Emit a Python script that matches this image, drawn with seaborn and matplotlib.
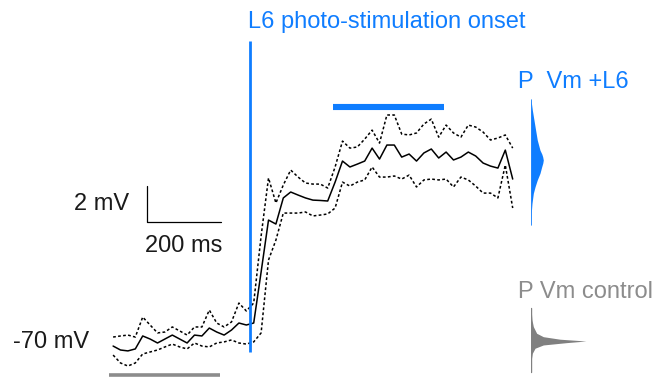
import numpy as np
import pandas as pd
import matplotlib
matplotlib.use("Agg")
import matplotlib.pyplot as plt
import seaborn as sns

# ---------------- data ----------------
time_ms = np.arange(-370, 720, 20)  # sample times relative to L6 photo-stimulation onset (ms)

vm_mean = [-70.17, -70.39, -70.44, -70.33, -69.61, -69.78, -70.00, -69.78, -69.56, -69.78,
           -70.00, -69.56, -69.61, -69.17, -69.39, -69.56, -69.28, -68.89, -69.00, -68.89,
           -66.06, -63.17, -63.39, -61.94, -61.61, -61.78, -61.94, -62.06, -62.08, -62.11,
           -61.06, -59.89, -60.22, -60.06, -59.89, -59.17, -59.78, -59.00, -59.00, -59.67,
           -59.50, -59.89, -59.44, -59.22, -59.72, -59.39, -59.83, -59.67, -59.39, -59.61,
           -60.00, -60.17, -60.28, -59.28, -60.89]

vm_upper = [-69.67, -69.61, -69.56, -69.67, -68.56, -69.00, -69.44, -69.39, -69.11, -69.33,
            -69.56, -69.11, -69.11, -68.17, -68.89, -69.11, -68.83, -67.78, -68.22, -67.78,
            -64.06, -60.83, -62.22, -61.22, -60.39, -60.78, -61.11, -61.17, -61.17, -61.39,
            -60.22, -58.78, -59.17, -59.11, -58.67, -58.17, -58.89, -57.33, -57.33, -58.39,
            -58.44, -58.33, -57.83, -57.56, -58.56, -57.89, -58.33, -58.56, -57.89, -58.00,
            -58.28, -58.72, -58.61, -58.44, -59.17]

vm_lower = [-70.67, -71.11, -71.28, -71.11, -70.61, -70.50, -70.39, -70.22, -70.06, -70.22,
            -70.33, -70.00, -70.17, -70.22, -70.00, -69.94, -69.83, -70.00, -70.06, -69.94,
            -69.44, -65.39, -64.28, -62.78, -62.78, -62.78, -62.72, -62.94, -62.89, -62.83,
            -62.50, -61.06, -61.28, -61.06, -60.94, -60.22, -60.78, -60.78, -60.72, -60.89,
            -60.67, -61.33, -60.94, -60.89, -60.94, -60.89, -61.33, -60.78, -60.94, -61.28,
            -61.67, -61.67, -61.94, -60.11, -62.50]

# Vm distributions (relative probability) with and without L6 stimulation
l6_hist_vm = [-56.5, -57.06, -57.98, -58.72, -59.28, -59.50, -59.65, -59.83, -60.00, -60.21,
              -60.57, -60.94, -61.32, -61.68, -62.24, -62.78, -63.45]
l6_hist_p = [0.0, 0.11, 0.33, 0.51, 0.73, 0.88, 0.95, 1.00, 0.96, 0.87,
             0.73, 0.51, 0.33, 0.19, 0.08, 0.02, 0.0]

ctrl_hist_vm = [-68.06, -68.72, -69.09, -69.46, -69.65, -69.79, -69.89, -69.98, -70.11,
                -70.29, -70.57, -70.94, -71.61]
ctrl_hist_p = [0.0, 0.08, 0.19, 0.46, 1.00, 2.36, 4.47, 2.90, 1.00, 0.33, 0.11, 0.02, 0.0]

onset_ms = 0
onset_line_vm = (-70.5, -53.2)
l6_window_ms = (225, 525)
ctrl_window_ms = (-380, -80)
scale_bar_mv = 2
scale_bar_ms = 200
scale_origin = (-278, -63.3)
baseline_mv = -70

BLUE = "#0f7dff"
GRAY = "#8c8c8c"
FS = 17

# ---------------- figure ----------------
sns.set_theme(style="white")
plt.rcParams["font.family"] = ["Liberation Sans", "DejaVu Sans"]

fig = plt.figure(figsize=(6.55, 3.77), dpi=100)
ax = fig.add_axes([0, 0, 1, 1])
ax.set_xlim(-675.7, 1094.6)
ax.set_ylim(-71.89, -50.94)
ax.axis("off")

df = pd.DataFrame({"t": time_ms, "mean": vm_mean, "upper": vm_upper, "lower": vm_lower})
sns.lineplot(data=df, x="t", y="upper", color="black", lw=1.1,
             linestyle=(0, (1.8, 1.5)), ax=ax, sort=False)
sns.lineplot(data=df, x="t", y="lower", color="black", lw=1.1,
             linestyle=(0, (1.8, 1.5)), ax=ax, sort=False)
sns.lineplot(data=df, x="t", y="mean", color="black", lw=1.1, ax=ax, sort=False)

# onset line
ax.plot([onset_ms, onset_ms], onset_line_vm, color=BLUE, lw=2.0, solid_capstyle="butt")
ax.text(onset_ms - 5, -52.17, "L6 photo-stimulation onset", color=BLUE, fontsize=FS,
        ha="left", va="center")

# analysis windows
ax.plot(l6_window_ms, [-56.86, -56.86], color=BLUE, lw=4.4, solid_capstyle="butt")
ax.plot(ctrl_window_ms, [-71.78, -71.78], color=GRAY, lw=2.6, solid_capstyle="butt")

# scale bar
x0, y0 = scale_origin
ax.plot([x0, x0, x0 + scale_bar_ms], [y0 + scale_bar_mv, y0, y0], color="black", lw=0.9)
ax.text(x0 - 50, y0 + 1.0, f"{scale_bar_mv} mV", fontsize=FS, ha="right", va="center",
        color="#1a1a1a")
ax.text(x0 + scale_bar_ms / 2, y0 - 1.33, f"{scale_bar_ms} ms", fontsize=FS, ha="center",
        va="center", color="#1a1a1a")
ax.text(-640, baseline_mv + 0.03, f"{baseline_mv} mV", fontsize=FS, ha="left", va="center",
        color="#1a1a1a")

# distribution labels
ax.text(724, -55.5, "P  Vm +L6", color=BLUE, fontsize=FS, ha="left", va="center")
ax.text(724, -67.17, "P Vm control", color=GRAY, fontsize=FS, ha="left", va="center")

# distributions
hx = fig.add_axes([531 / 655, 0, 70 / 655, 1])
hx.set_ylim(-71.89, -50.94)
hx.set_xlim(0, 70 / 12.3)
hx.axis("off")
hx.fill_betweenx(l6_hist_vm, 0, l6_hist_p, color=BLUE, lw=0)
hx.plot([0, 0], [l6_hist_vm[0], l6_hist_vm[-1]], color=BLUE, lw=1.2)
hx.fill_betweenx(ctrl_hist_vm, 0, ctrl_hist_p, color="#808080", lw=0)
hx.plot([0, 0], [ctrl_hist_vm[0], ctrl_hist_vm[-1]], color="#808080", lw=1.0)

fig.savefig("out.png", dpi=100)
